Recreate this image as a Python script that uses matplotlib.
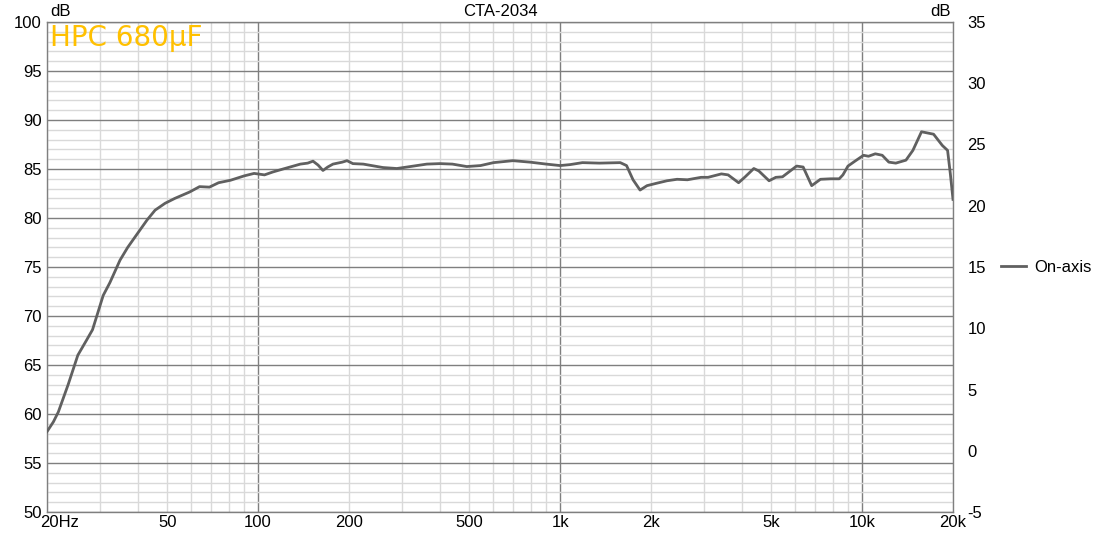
import matplotlib
matplotlib.use("Agg")
import matplotlib.pyplot as plt
from matplotlib.ticker import FixedLocator, FixedFormatter, NullFormatter
from matplotlib.transforms import ScaledTranslation

freq_hz = [20, 21, 21.8, 23.5, 25.3, 27, 28.3, 30.7, 32.3, 34.9, 37, 39, 42.9, 45.6,
           49.2, 53, 59.3, 64, 69, 74, 81, 90, 97, 105, 112, 121, 138, 146, 152, 158,
           164, 170, 177, 190, 197, 206, 223, 259, 288, 311, 362, 400, 440, 491, 545,
           602, 698, 795, 900, 1000, 1080, 1186, 1350, 1582, 1660, 1744, 1840, 1940,
           2090, 2260, 2440, 2640, 2930, 3090, 3420, 3600, 3900, 4100, 4380, 4550,
           4920, 5180, 5450, 6070, 6380, 6810, 7280, 7870, 8400, 8640, 8980, 9470,
           10110, 10500, 11060, 11660, 12260, 12930, 13970, 14730, 15730, 17250,
           18440, 19190, 19600, 20000]
on_axis_db = [58.2, 59.2, 60.2, 63.0, 66.0, 67.5, 68.6, 72.1, 73.4, 75.7, 77.0, 78.0,
              79.8, 80.8, 81.5, 82.0, 82.65, 83.2, 83.15, 83.6, 83.85, 84.3, 84.55,
              84.4, 84.7, 85.0, 85.5, 85.6, 85.8, 85.4, 84.85, 85.2, 85.5, 85.7, 85.85,
              85.55, 85.5, 85.15, 85.05, 85.2, 85.5, 85.55, 85.5, 85.25, 85.35, 85.65,
              85.85, 85.7, 85.5, 85.35, 85.45, 85.65, 85.6, 85.65, 85.35, 83.9, 82.85,
              83.3, 83.55, 83.8, 83.95, 83.9, 84.15, 84.15, 84.5, 84.4, 83.6, 84.2,
              85.05, 84.8, 83.8, 84.15, 84.2, 85.3, 85.2, 83.3, 83.95, 84.0, 84.0,
              84.4, 85.3, 85.8, 86.4, 86.3, 86.55, 86.4, 85.7, 85.6, 85.9, 86.9, 88.8,
              88.55, 87.4, 86.9, 84.5, 81.9]

major_x = [100, 1000, 10000]
major_x_labels = ["100", "1k", "10k"]
minor_x = [20, 30, 40, 50, 60, 70, 80, 90, 200, 300, 400, 500, 600, 700, 800, 900,
           2000, 3000, 4000, 5000, 6000, 7000, 8000, 9000, 20000]
minor_x_labels = ["20Hz", "", "", "50", "", "", "", "", "200", "", "", "500", "", "",
                  "", "", "2k", "", "", "5k", "", "", "", "", "20k"]
left_ticks = list(range(50, 101, 5))
right_ticks = list(range(-5, 36, 5))

plt.rcParams['font.family'] = ['Liberation Sans', 'DejaVu Sans']
plt.rcParams['axes.unicode_minus'] = False
FS = 12

fig = plt.figure(figsize=(10.94, 5.35), dpi=100)
ax = fig.add_axes([47/1094, 1-512/535, (953-47)/1094, (512-22)/535])
ax.set_xscale('log')
ax.set_xlim(20, 20000)
ax.set_ylim(50, 100)

ax.xaxis.set_major_locator(FixedLocator(major_x))
ax.xaxis.set_major_formatter(FixedFormatter(major_x_labels))
ax.xaxis.set_minor_locator(FixedLocator(minor_x))
ax.xaxis.set_minor_formatter(FixedFormatter(minor_x_labels))
ax.yaxis.set_major_locator(FixedLocator(left_ticks))
ax.yaxis.set_minor_locator(FixedLocator(list(range(50, 101))))
ax.yaxis.set_minor_formatter(NullFormatter())

ax.grid(which='minor', color='#d9d9d9', linewidth=1.0)
ax.grid(which='major', color='#7f7f7f', linewidth=1.0)
ax.set_axisbelow(True)
ax.tick_params(which='both', length=0, labelsize=FS, colors='black')
ax.tick_params(axis='x', which='both', pad=2)
ax.tick_params(axis='y', which='both', pad=4)
for s in ax.spines.values():
    s.set_color('#7f7f7f')
    s.set_linewidth(1.0)

for lab in ax.xaxis.get_minorticklabels():
    if lab.get_text() == "20Hz":
        lab.set_horizontalalignment('left')
        lab.set_transform(lab.get_transform() + ScaledTranslation(-7/100, 0, fig.dpi_scale_trans))

line, = ax.plot(freq_hz, on_axis_db, color='#606060', linewidth=2.0, label='On-axis',
                solid_joinstyle='round', zorder=3)

ax2 = ax.twinx()
ax2.set_ylim(-5, 35)
ax2.yaxis.set_major_locator(FixedLocator(right_ticks))
ax2.tick_params(length=0, labelsize=FS, pad=10.5, colors='black')
for s in ax2.spines.values():
    s.set_visible(False)

fig.text(50/1094, 1-11/535, "dB", fontsize=FS, ha='left', va='center')
fig.text(951/1094, 1-12/535, "dB", fontsize=FS, ha='right', va='center')
fig.text(500/1094, 1-12/535, "CTA-2034", fontsize=FS, ha='center', va='center')
ax.text(0.003, 0.995, "HPC 680µF", transform=ax.transAxes, color='#FFC000',
        fontsize=20, ha='left', va='top', family=['DejaVu Sans'], zorder=4)

fig.legend(handles=[line], loc='center left', bbox_to_anchor=(1001/1094, 1-267/535),
           frameon=False, fontsize=FS, handlelength=1.5, handletextpad=0.5,
           borderpad=0, borderaxespad=0)

fig.savefig('out.png', dpi=100)
